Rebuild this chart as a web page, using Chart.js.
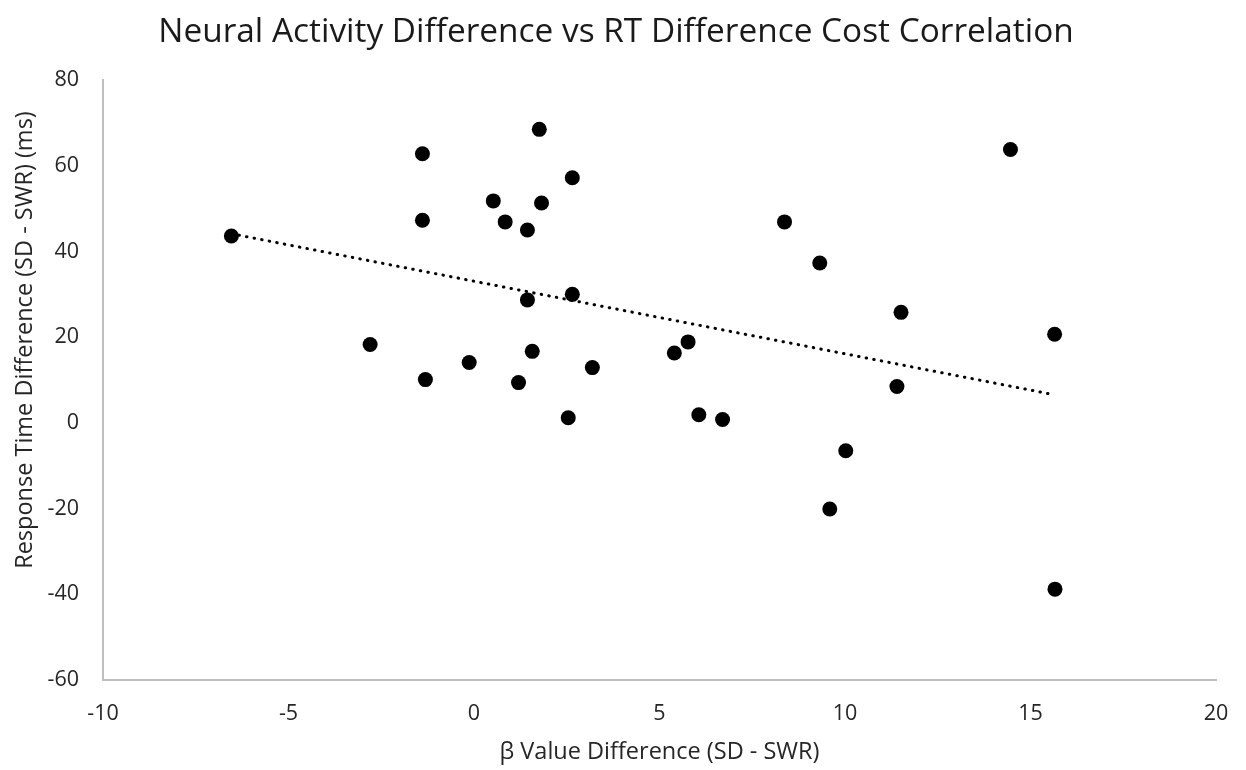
<!DOCTYPE html>
<html>
<head>
<meta charset="utf-8">
<script src="https://cdn.jsdelivr.net/npm/chart.js@4/dist/chart.umd.min.js"></script>
<style>
  html, body { margin: 0; padding: 0; background: #fff; }
  #wrap { width: 1246px; height: 770px; }
</style>
</head>
<body>
<div id="wrap"><canvas id="scatterChart" width="1246" height="770"></canvas></div>
<script>
// Data
const betaDiff = [
  -6.54, -1.39, -1.39, -1.31, -2.80, -0.13, 0.52, 0.84, 1.20, 1.44, 1.44,
  1.57, 1.76, 1.82, 2.54, 2.65, 2.65, 3.19, 5.40, 5.77, 6.06, 6.70,
  8.37, 9.32, 9.59, 10.02, 11.40, 11.51, 14.46, 15.65, 15.66,
];
const rtDiff = [
  43.6, 62.8, 47.3, 10.1, 18.3, 14.1, 51.8, 46.9, 9.4, 45.0, 28.7,
  16.7, 68.5, 51.3, 1.2, 57.2, 30.0, 12.9, 16.3, 18.9, 1.9, 0.8,
  46.9, 37.3, -20.1, -6.5, 8.5, 25.8, 63.8, 20.7, -38.8,
];
const xTicks = [-10, -5, 0, 5, 10, 15, 20];
const yTicks = [-60, -40, -20, 0, 20, 40, 60, 80];
const yTitle = 'Response Time Difference (SD - SWR) (ms)';

const points = betaDiff.map((x, i) => ({ x, y: rtDiff[i] }));

// Least squares trendline, like the Excel linear trendline
const n = points.length;
const meanX = betaDiff.reduce((a, b) => a + b, 0) / n;
const meanY = rtDiff.reduce((a, b) => a + b, 0) / n;
let sxy = 0, sxx = 0;
for (let i = 0; i < n; i++) {
  sxy += (betaDiff[i] - meanX) * (rtDiff[i] - meanY);
  sxx += (betaDiff[i] - meanX) ** 2;
}
const slope = sxy / sxx;
const intercept = meanY - slope * meanX;
const xMin = Math.min(...betaDiff);
const xMax = Math.max(...betaDiff);
const trend = [xMin, xMax].map((x) => ({ x, y: intercept + slope * x }));

Chart.defaults.font.family = "'Open Sans', sans-serif";
Chart.defaults.color = '#262626';

// y axis title sits a bit above the plot's middle in the original
const yTitlePlugin = {
  id: 'yTitle',
  afterDraw(chart) {
    const { ctx, chartArea } = chart;
    ctx.save();
    ctx.translate(25, (chartArea.top + chartArea.bottom) / 2 - 40);
    ctx.rotate(-Math.PI / 2);
    ctx.font = "23.5px 'Open Sans', sans-serif";
    ctx.fillStyle = '#262626';
    ctx.textAlign = 'center';
    ctx.textBaseline = 'middle';
    ctx.fillText(yTitle, 0, 0);
    ctx.restore();
  },
};

new Chart(document.getElementById('scatterChart'), {
  type: 'scatter',
  data: {
    datasets: [
      {
        label: 'Trend',
        type: 'line',
        data: trend,
        borderColor: '#000',
        borderWidth: 3,
        borderDash: [0.5, 7.2],
        borderCapStyle: 'round',
        pointRadius: 0,
        fill: false,
        order: 0,
      },
      {
        label: 'Participants',
        data: points,
        pointRadius: 7.5,
        pointBackgroundColor: '#000',
        pointBorderWidth: 0,
        order: 1,
      },
    ],
  },
  plugins: [yTitlePlugin],
  options: {
    responsive: false,
    animation: false,
    layout: {
      padding: { left: 16, right: 30, top: 0, bottom: 0 },
    },
    plugins: {
      legend: { display: false },
      tooltip: { enabled: false },
      title: {
        display: true,
        text: 'Neural Activity Difference vs RT Difference Cost Correlation',
        color: '#1a1a1a',
        font: { size: 33.4, weight: 'normal' },
        padding: { top: 12, bottom: 28 },
      },
    },
    scales: {
      x: {
        type: 'linear',
        min: -10,
        max: 20,
        afterBuildTicks: (axis) => { axis.ticks = xTicks.map((v) => ({ value: v })); },
        afterFit: (axis) => { axis.height = 90; },
        grid: { display: false },
        border: { display: true, color: '#bfbfbf', width: 2 },
        ticks: { padding: 13, font: { size: 21.5 } },
        title: {
          display: true,
          text: 'β Value Difference (SD - SWR)',
          font: { size: 23.5 },
          padding: { top: 0, bottom: 4 },
        },
      },
      y: {
        min: -60,
        max: 80,
        afterBuildTicks: (axis) => { axis.ticks = yTicks.map((v) => ({ value: v })); },
        afterFit: (axis) => { axis.width = 87; },
        grid: { display: false },
        border: { display: true, color: '#bfbfbf', width: 2 },
        ticks: { padding: 16, font: { size: 21.5 } },
        title: { display: false },
      },
    },
  },
});
</script>
</body>
</html>
